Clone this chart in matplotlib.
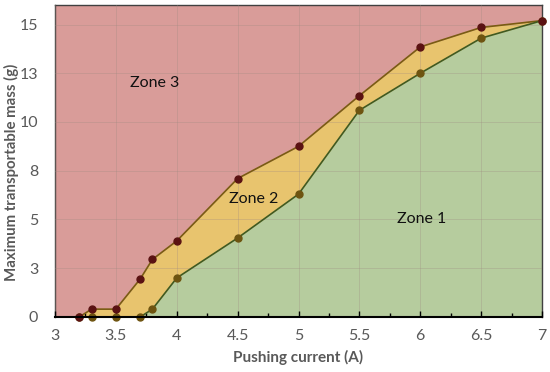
import matplotlib
matplotlib.use("Agg")
import matplotlib.pyplot as plt
from matplotlib.ticker import MultipleLocator, FuncFormatter
import numpy as np

# Pushing current (A)
current = [3.2, 3.3, 3.5, 3.7, 3.8, 4.0, 4.5, 5.0, 5.5, 6.0, 6.5, 7.0]
# Upper boundary (zone 2 / zone 3)
mass_upper = [0.0, 0.4, 0.4, 1.95, 2.95, 3.9, 7.1, 8.75, 11.35, 13.85, 14.85, 15.2]
# Lower boundary (zone 1 / zone 2)
mass_lower = [0.0, 0.0, 0.0, 0.0, 0.4, 2.0, 4.05, 6.3, 10.6, 12.5, 14.3, 15.2]

zone_labels = ["Zone 1", "Zone 2", "Zone 3"]
zone_pos = [(6.01, 5.0), (4.63, 6.05), (3.82, 12.0)]

RED = "#d99c99"
YELLOW = "#e8c46e"
GREEN = "#b6cc9e"
TXT = "#595959"

plt.rcParams["font.family"] = ["Lato", "DejaVu Sans"]

fig = plt.figure(figsize=(5.5, 3.72), dpi=100)
ax = fig.add_axes([0.1, 0.148, 0.8855, 0.8385])
ax.set_facecolor(RED)

x_ext = [3.0] + current
up_ext = [0.0] + mass_upper
low_ext = [0.0] + mass_lower
ax.fill_between(x_ext, 0, up_ext, color=YELLOW, lw=0, zorder=1)
ax.fill_between(x_ext, 0, low_ext, color=GREEN, lw=0, zorder=1)

ax.plot(current, mass_upper, color="#7a5c12", lw=1.2, zorder=3)
ax.plot(current[3:], mass_lower[3:], color="#3f5a22", lw=1.2, zorder=3)
ax.plot(current, mass_lower, ls="none", marker="o", ms=5, color="#6e5410",
        zorder=4, clip_on=False)
ax.plot(current, mass_upper, ls="none", marker="o", ms=5, color="#5a1212",
        zorder=4, clip_on=False)

for lab, (zx, zy) in zip(zone_labels, zone_pos):
    ax.text(zx, zy, lab, ha="center", va="center", fontsize=11.5, color="#111111", zorder=5)

ax.set_xlim(3, 7)
ax.set_ylim(0, 16)
ax.xaxis.set_major_locator(MultipleLocator(0.5))
ax.xaxis.set_minor_locator(MultipleLocator(0.25))
ax.yaxis.set_major_locator(MultipleLocator(2.5))
ax.xaxis.set_major_formatter(FuncFormatter(lambda v, p: f"{v:g}"))
ax.yaxis.set_major_formatter(FuncFormatter(lambda v, p: f"{int(np.floor(v + 0.5))}"))

ax.grid(True, which="major", color="#9e8a80", alpha=0.35, lw=0.6, zorder=2)
ax.set_axisbelow(False)
for g in ax.get_xgridlines() + ax.get_ygridlines():
    g.set_zorder(2)

ax.tick_params(axis="x", which="major", direction="in", length=4, width=1,
               colors="black", labelcolor=TXT, labelsize=11.5, pad=9)
ax.tick_params(axis="x", which="minor", direction="in", length=3, width=1, colors="black")
ax.tick_params(axis="y", length=0, labelcolor=TXT, labelsize=11.5, pad=12)

ax.spines["bottom"].set_linewidth(1.5)
ax.spines["bottom"].set_color("black")
ax.spines["bottom"].set_zorder(6)
for s in ["top", "right", "left"]:
    ax.spines[s].set_color("#404040")
    ax.spines[s].set_linewidth(1.0)

ax.set_xlabel("Pushing current (A)", fontsize=11, fontweight="bold", color=TXT)
ax.set_ylabel("Maximum transportable mass (g)", fontsize=10.8, fontweight="bold", color=TXT)
ax.xaxis.set_label_coords(0.5, -0.105)
ax.yaxis.set_label_coords(-0.074, 0.465)

fig.savefig("out.png", dpi=100)
